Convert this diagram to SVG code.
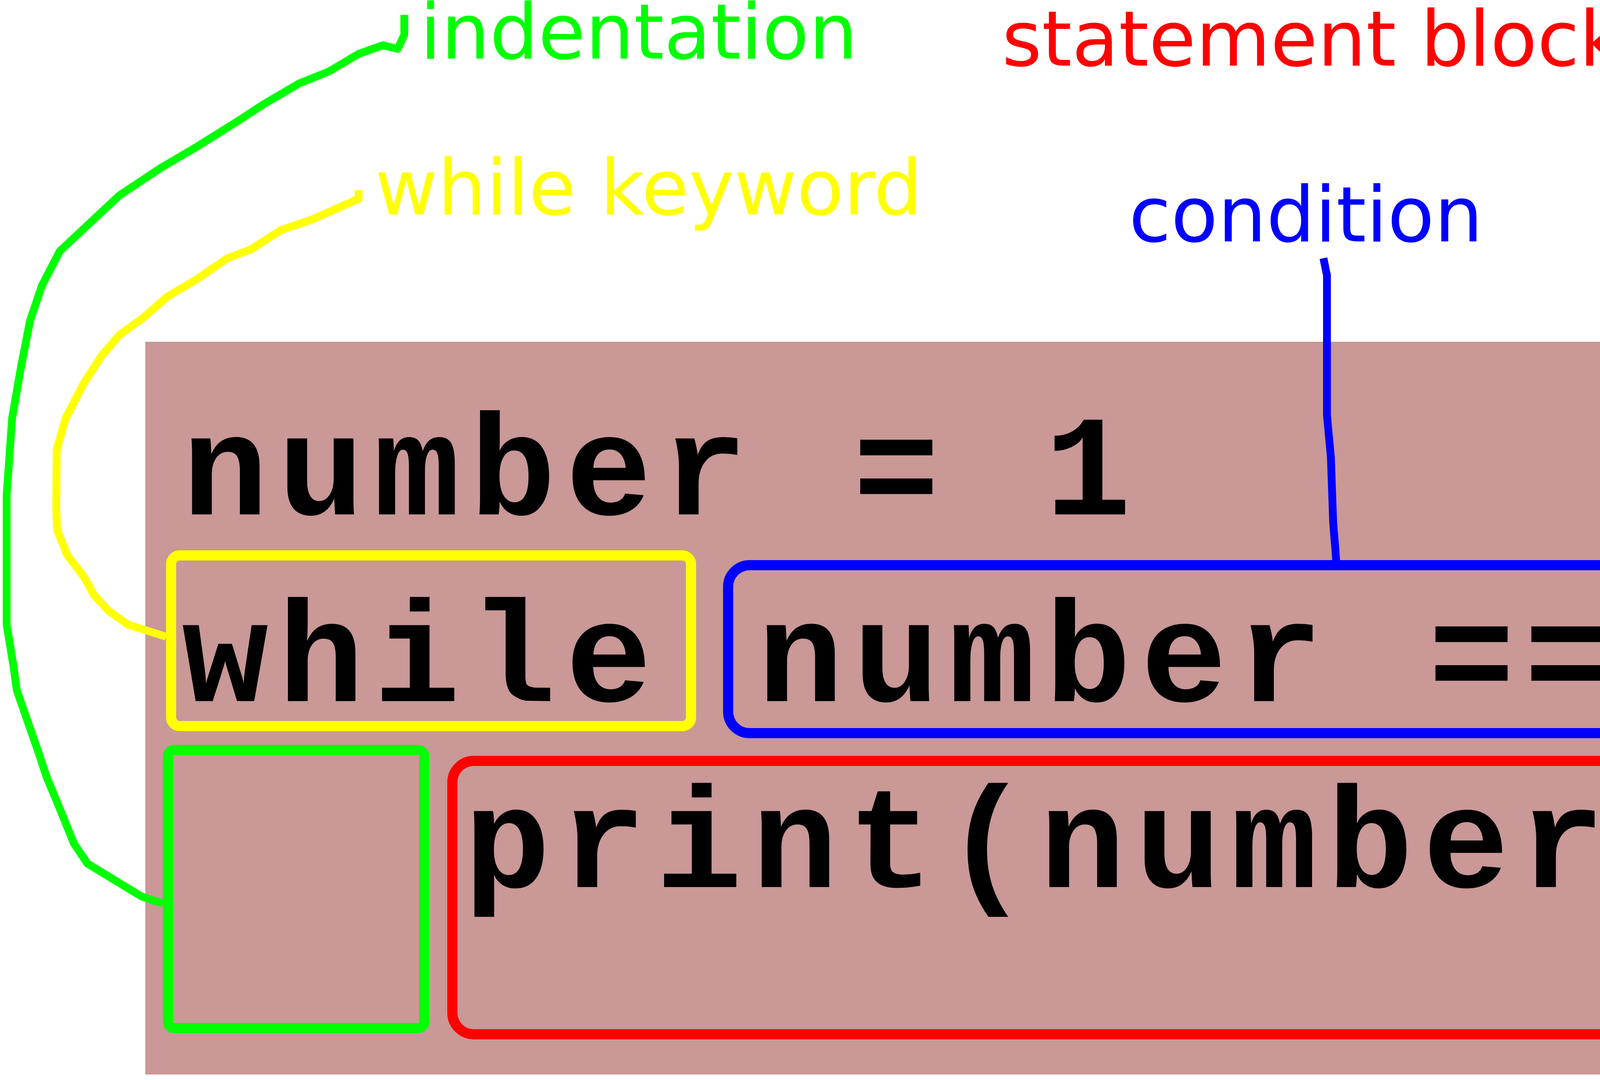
<svg xmlns="http://www.w3.org/2000/svg" width="5425" height="2765" viewBox="0 0 5425 2765">
<style>
.code{font-family:"Liberation Mono","Courier New",monospace;font-weight:bold;font-size:368px;letter-spacing:24.6px;fill:#000}
.lbl{font-family:"DejaVu Sans",Verdana,sans-serif;font-size:196px}
.box{fill:none;stroke-width:26}
.con{fill:none;stroke-width:20;stroke-linejoin:round;stroke-linecap:butt}
</style>
<rect x="0" y="0" width="5425" height="2765" fill="#ffffff"/>
<g id="code-panel">
<rect x="372" y="875" width="4996" height="1876" fill="#c99897"/>
<text class="code" x="466" y="1317">number = 1</text>
<text class="code" x="466" y="1795">while number == 1:</text>
<text class="code" x="1188" y="2271">print(number)</text>
</g>
<g id="while-box"><rect class="box" x="438" y="1422" width="1331" height="437" rx="22" stroke="#ffff00"/></g>
<g id="condition-box"><rect class="box" x="1864" y="1447" width="2799" height="430" rx="55" stroke="#0000ff"/></g>
<g id="colon-box"><rect class="box" x="4703" y="1434" width="118" height="453" rx="10" stroke="#ff00ff"/></g>
<g id="indent-box"><rect class="box" x="430" y="1920" width="656" height="712" rx="16" stroke="#00ff00"/></g>
<g id="block-box"><rect class="box" x="1158" y="1948" width="3215" height="700" rx="55" stroke="#ff0000"/></g>
<g id="label-indentation"><text class="lbl" x="1075" y="150" fill="#00ff00">indentation</text></g>
<g id="label-while"><text class="lbl" x="960" y="549" fill="#ffff00">while keyword</text></g>
<g id="label-condition"><text class="lbl" x="2890" y="618" fill="#0000ff">condition</text></g>
<g id="label-statement"><text class="lbl" x="2565" y="168" fill="#ff0000">statement block</text></g>
<g id="connectors">
<polyline class="con" stroke="#00ff00" points="1035,38 1035,89 1018,125 980,116 918,138 842,183 765,214 673,268 612,308 505,375 413,429 306,500 230,571 153,643 107,732 77,821 54,938 31,1071 17,1268 17,1599 34,1702 43,1767 69,1842 95,1916 120,1991 155,2075 189,2159 224,2211 293,2253 362,2295 417,2313"/>
<polyline class="con" stroke="#ffff00" points="918,487 918,509 857,536 796,563 719,589 643,638 582,661 505,714 429,759 367,813 306,857 260,911 214,982 168,1071 145,1152 144,1304 146,1356 172,1421 215,1477 241,1524 276,1562 327,1599 425,1630"/>
<polyline class="con" stroke="#0000ff" points="3388,661 3397,705 3397,1063 3407,1170 3413,1340 3418,1400 3421,1440"/>
<polyline class="con" stroke="#ff00ff" points="4614,741 4622,786 4638,821 4667,893 4695,964 4705,1107 4725,1300 4725,1405 4703,1434"/>
<polyline class="con" stroke="#ff0000" points="4184,107 4252,94 4329,103 4425,134 4522,152 4618,188 4715,210 4792,232 4831,268 4908,313 5004,357 5081,402 5139,455 5197,500 5245,536 5274,580 5284,643 5313,714 5332,804 5351,893 5371,1027 5380,1161 5400,1250 5411,1300 5411,1375 5394,1421 5359,1534 5307,1627 5264,1748 5211,1823 5168,1907 5125,1982 5072,2066 4994,2131 4890,2215 4786,2271 4664,2318 4542,2355 4438,2393 4386,2416"/>
</g>
</svg>
